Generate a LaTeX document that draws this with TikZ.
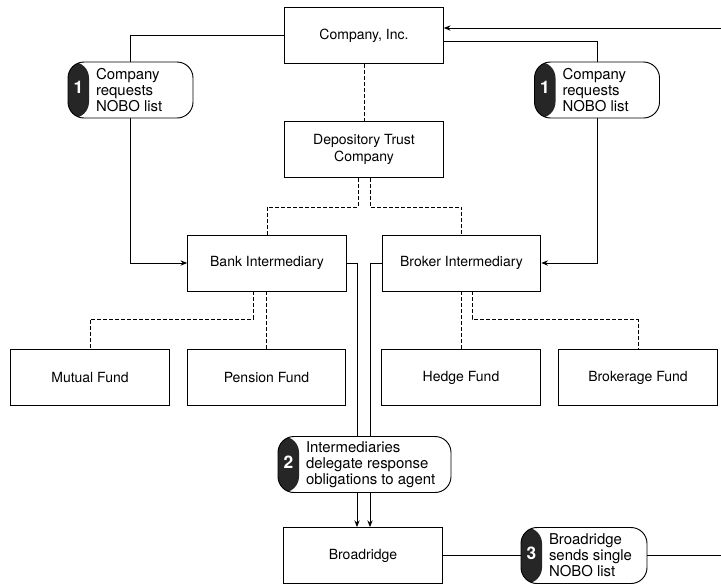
\documentclass[tikz,border=0pt]{standalone}
\usepackage{fontspec}
\setmainfont{TeX Gyre Heros}
\usetikzlibrary{arrows.meta}

\newcommand{\stepno}[1]{\makebox[15.75pt]{\color{white}\bfseries\fontsize{13}{13}\selectfont #1}\hspace{5.25pt}}

\begin{document}
\begin{tikzpicture}[x=0.75pt, y=-0.75pt,
    entity/.style ={draw, line width=0.7pt, minimum width=119pt, minimum height=42pt,
                    align=center, font=\fontsize{10.5}{12.5}\selectfont},
    callout/.style ={draw, line width=0.7pt, fill=white, rounded corners=12pt, minimum height=42pt,
                     inner xsep=0pt, inner ysep=2pt, font=\fontsize{11.2}{12}\selectfont,
                     path picture={\fill[black!85] (path picture bounding box.south west)
                       rectangle ([xshift=15.75pt]path picture bounding box.north west);}},
    link/.style ={line width=0.7pt},
    arrow/.style ={line width=0.7pt, -{Stealth[length=5pt,width=4pt]}},
    holding/.style ={line width=0.7pt, dash pattern=on 3pt off 1.5pt}]
   \useasboundingbox (0,0) rectangle (721,587);
   % boxes
   \node[entity] (company) at (364,35.5)  {Company, Inc.};
   \node[entity] (dtc) at (364,149.5)  {Depository Trust\\Company};
   \node[entity] (bank) at (267,263)  {Bank Intermediary};
   \node[entity] (broker) at (461.5,263)  {Broker Intermediary};
   \node[entity] (mutual) at (90,377.5)  {Mutual Fund};
   \node[entity] (pension) at (266.5,377.5)  {Pension Fund};
   \node[entity] (hedge) at (461,377.5)  {Hedge Fund};
   \node[entity] (brokerage) at (638,377.5)  {Brokerage Fund};
   \node[entity] (broad) at (363,555.5)  {Broadridge};
   % steps
   \node[callout] (c1l) at (130.5,90) {\stepno{1}\parbox[c]{72.75pt}{\raggedright Company\\requests\\NOBO list}};
   \node[callout] (c1r) at (597,90) {\stepno{1}\parbox[c]{72.75pt}{\raggedright Company\\requests\\NOBO list}};
   \node[callout] (c2) at (364.5,464.5) {\stepno{2}\parbox[c]{108.75pt}{\raggedright Intermediaries\\delegate response\\obligations to agent}};
   \node[callout] (c3) at (584,555.5) {\stepno{3}\parbox[c]{73.5pt}{\raggedright Broadridge\\sends single\\NOBO list}};
   \coordinate (inR) at (721,28);
   \coordinate (outR) at (721,555.5);
   \coordinate (dl) at ([xshift=-4.5pt]broad.north);
   \coordinate (dr) at ([xshift=5.25pt]broad.north);
   % requests
   \draw[link] (company.west) -| (c1l.north);
   \draw[arrow] (c1l.south) |- (bank.west);
   \draw[link] ([yshift=-4.5pt]company.east) -| (c1r.north);
   \draw[arrow] (c1r.south) |- (broker.east);
   \draw[arrow] (inR) -- (company.east |- inR);
   % holdings
   \draw[holding] (company.south) to (dtc.north);
   \draw[holding] ([xshift=-4.5pt]dtc.south) -- ++(0,29) -| (bank.north);
   \draw[holding] ([xshift=4.5pt]dtc.south) -- ++(0,29) -| (broker.north);
   \draw[holding] ([xshift=-10.5pt]bank.south) -- ++(0,28) -| (mutual.north);
   \draw[holding] (pension.north |- bank.south) to (pension.north);
   \draw[holding] (hedge.north |- broker.south) to (hedge.north);
   \draw[holding] ([xshift=8pt]broker.south) -- ++(0,28) -| (brokerage.north);
   % delegation
   \draw[link] (bank.east) -| (dl |- c2.north);
   \draw[link] (broker.west) -| (dr |- c2.north);
   \draw[arrow] (dl |- c2.south) to (dl);
   \draw[arrow] (dr |- c2.south) to (dr);
   \draw[link] (broad.east) to (c3.west);
   \draw[link] (c3.east) to (outR);
 \end{tikzpicture}
\end{document}
